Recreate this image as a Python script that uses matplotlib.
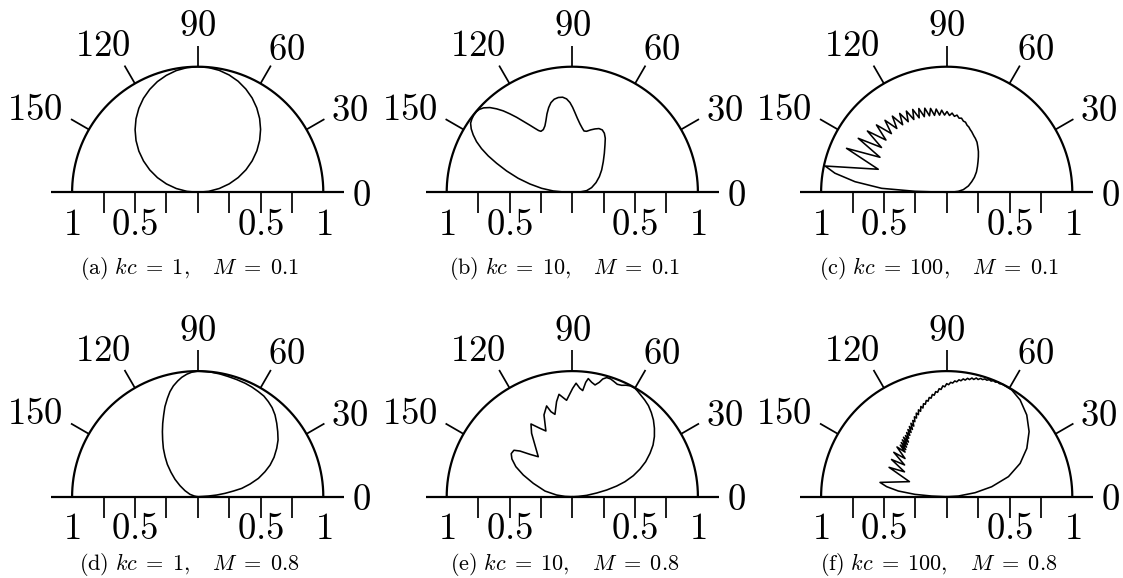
import numpy as np
import matplotlib
matplotlib.use("Agg")
import matplotlib.pyplot as plt

plt.rcParams["mathtext.fontset"] = "cm"
plt.rcParams["font.family"] = "cmr10"
plt.rcParams["axes.unicode_minus"] = False

# ---------------------------------------------------------------- data
kc_values = [1, 10, 100]
mach_values = [0.1, 0.8]
panel_tags = ["a", "b", "c", "d", "e", "f"]

angle_ticks = [30, 60, 90, 120, 150]
angle_labels = ["0", "30", "60", "90", "120", "150"]
radial_ticks = [-0.75, -0.5, -0.25, 0.0, 0.25, 0.5, 0.75]
radial_label_pos = [-1.0, -0.5, 0.5, 1.0]
radial_label_txt = ["1", "0.5", "0.5", "1"]

# directivity |D(theta)|, theta in degrees
theta_a = [0, 5, 10, 15, 20, 25, 30, 35, 40, 45, 50, 55, 60, 65, 70, 75, 80, 85, 90,
           95, 100, 105, 110, 115, 120, 125, 130, 135, 140, 145, 150, 155, 160, 165,
           170, 175, 180]
r_a = [0.0, 0.088, 0.175, 0.260, 0.343, 0.424, 0.501, 0.575, 0.644, 0.708, 0.767,
       0.820, 0.867, 0.907, 0.941, 0.967, 0.986, 0.997, 1.0, 0.996, 0.984, 0.964,
       0.938, 0.904, 0.864, 0.817, 0.764, 0.705, 0.641, 0.572, 0.498, 0.421, 0.341,
       0.258, 0.173, 0.086, 0.0]

theta_b = [0, 2.5, 6.6, 13.6, 22.2, 30.1, 37.3, 44.7, 50.6, 55.4, 58.6, 61.5, 64.3,
           67.3, 70.3, 73.6, 76.8, 79.2, 81.1, 83.6, 86.1, 88.1, 89.8, 91.5, 93.5,
           95.8, 98.4, 101.0, 103.4, 105.6, 107.9, 110.2, 112.4, 114.8, 117.2, 118.6,
           120.3, 122.3, 124.6, 126.6, 128.5, 130.3, 132.2, 134.2, 136.4, 138.3,
           140.0, 141.9, 143.9, 145.8, 147.9, 149.9, 152.1, 154.3, 156.6, 159.0,
           162.0, 165.5, 168.9, 172.6, 176.0, 177.9, 180]
r_b = [0.0, 0.061, 0.115, 0.158, 0.204, 0.249, 0.294, 0.347, 0.402, 0.458, 0.504,
       0.535, 0.551, 0.550, 0.536, 0.518, 0.499, 0.497, 0.516, 0.548, 0.591, 0.635,
       0.677, 0.715, 0.745, 0.761, 0.763, 0.755, 0.734, 0.700, 0.656, 0.608, 0.572,
       0.550, 0.546, 0.560, 0.590, 0.632, 0.687, 0.744, 0.798, 0.850, 0.897, 0.941,
       0.975, 0.992, 0.998, 0.997, 0.990, 0.979, 0.950, 0.912, 0.863, 0.802, 0.729,
       0.646, 0.550, 0.445, 0.344, 0.246, 0.152, 0.072, 0.0]

theta_c = [0, 2.9, 4.9, 9.1, 16.3, 23.1, 28.5, 34.4, 39.9, 44.4, 48.4, 52.1, 55.8,
           58.8,
           62.0, 63.9, 65.7, 67.6, 69.4, 71.3, 73.1, 75.0, 76.8, 78.7, 80.5, 82.4,
           84.2, 86.1, 87.9, 89.8, 91.6, 93.5, 95.3, 97.2, 99.0, 100.9, 102.7, 104.6,
           106.5, 108.4, 110.3, 112.3, 114.3, 116.4, 118.6, 120.8, 123.1, 125.5,
           128.0, 130.6, 133.3, 136.2, 139.3, 142.3, 145.5, 148.6, 152.3, 156.3,
           161.4, 167.8, 170.3, 173.4, 176.5, 178.2, 180]
r_c = [0.0, 0.053, 0.093, 0.134, 0.180, 0.217, 0.251, 0.287, 0.319, 0.349, 0.380,
       0.411, 0.440, 0.466,
       0.486, 0.496, 0.508, 0.522, 0.533, 0.549, 0.558, 0.578, 0.582, 0.602, 0.598,
       0.620, 0.608, 0.632, 0.612, 0.643, 0.615, 0.655, 0.617, 0.668, 0.620, 0.680,
       0.624, 0.692, 0.628, 0.703, 0.632, 0.713, 0.636, 0.722, 0.640, 0.731, 0.642,
       0.745, 0.645, 0.755, 0.642, 0.775, 0.638, 0.798, 0.630, 0.825, 0.600, 0.871,
       0.575, 0.990, 0.903, 0.735, 0.519, 0.252, 0.0]

theta_d = [0, 3.4, 3.6, 5.0, 7.0, 9.0, 10.7, 13.6, 16.8, 20.4, 23.6, 27.3, 31.5,
           35.2, 39.1, 42.9, 46.6, 50.1, 53.4, 56.7, 60.0, 63.8, 67.3, 71.6, 75.7,
           79.7, 83.6, 86.6, 90.0, 92.8, 95.1, 97.6, 99.8, 102.4, 104.8, 107.1, 110.0,
           112.6, 115.5, 118.5, 121.7, 125.4, 129.2, 133.2, 137.6, 142.6, 148.1,
           154.7, 163.1, 168.7, 180]
r_d = [0.0, 0.045, 0.085, 0.152, 0.219, 0.288, 0.357, 0.429, 0.505, 0.572, 0.629,
       0.684, 0.738, 0.783, 0.821, 0.859, 0.896, 0.924, 0.943, 0.959, 0.966, 0.974,
       0.979, 0.983, 0.987, 0.993, 0.997, 0.998, 1.0, 0.992, 0.979, 0.959, 0.935,
       0.903, 0.865, 0.820, 0.763, 0.705, 0.647, 0.589, 0.531, 0.472, 0.411, 0.353,
       0.288, 0.227, 0.166, 0.112, 0.064, 0.027, 0.0]

theta_e = [0, 3.2, 5.3, 8.6, 11.0, 13.5, 15.9, 19.0, 22.2, 25.5, 29.2, 32.6, 36.2,
           39.8, 43.4, 46.8, 50.1, 53.2, 56.1, 58.4, 60.0, 62.2, 64.3, 66.1, 68.2,
           70.1, 72.0, 73.9, 75.5, 76.7, 78.5, 80.4, 82.3, 83.3, 84.4, 86.0, 88.1,
           89.8, 93.4, 94.8, 97.4, 99.4, 101.9, 104.1, 105.8, 109.1, 111.9, 115.3,
           119.6, 122.7, 130.4, 135.0, 138.9, 141.5, 144.8, 148.0, 152.0, 156.1,
           161.1, 168.3, 173.9, 177.4, 180]
r_e = [0.0, 0.048, 0.115, 0.196, 0.279, 0.363, 0.436, 0.514, 0.582, 0.647, 0.709,
       0.763, 0.810, 0.851, 0.889, 0.919, 0.945, 0.962, 0.976, 0.989, 0.997, 0.997,
       0.985, 0.970, 0.964, 0.975, 0.986, 0.987, 0.968, 0.936, 0.908, 0.924, 0.949,
       0.917, 0.849, 0.865, 0.904, 0.863, 0.769, 0.786, 0.822, 0.767, 0.670, 0.698,
       0.751, 0.689, 0.564, 0.602, 0.666, 0.600, 0.418, 0.477, 0.553, 0.594, 0.595,
       0.567, 0.509, 0.427, 0.328, 0.222, 0.126, 0.058, 0.0]

theta_f = [0, 3.3, 8.0, 12.5, 18.0, 24.4, 31.1, 38.3, 45.6, 52.8, 58.6, 62.4,
           64, 65, 66, 67, 68, 69, 70, 71, 72, 73, 74, 75, 76, 77, 78, 79, 80, 81,
           82, 83, 84, 85, 86, 87, 88, 89, 90, 91, 92, 93, 94, 95, 96, 97, 98, 99,
           100, 101, 102, 103, 104, 105, 106, 107, 108, 109, 110, 111, 112, 113,
           114, 115, 116, 117, 118, 119, 120, 121, 122, 123, 124, 125, 126, 127,
           128, 129, 130, 131, 132, 133,
           135, 137.5, 140, 143, 146, 149.5, 153, 158, 167.9, 170.5, 173.3, 175.8,
           177.5, 180]
r_f = [0.0, 0.093, 0.228, 0.367, 0.517, 0.642, 0.745, 0.836, 0.911, 0.967, 0.995,
       0.998,
       1.000, 0.993, 1.000, 0.991, 0.997, 0.986, 0.992, 0.981, 0.986, 0.975, 0.980,
       0.966, 0.974, 0.958, 0.966, 0.950, 0.957, 0.940, 0.947, 0.930, 0.936, 0.918,
       0.924, 0.906, 0.911, 0.892, 0.900, 0.875, 0.883, 0.855, 0.862, 0.834, 0.841,
       0.814, 0.822, 0.794, 0.802, 0.775, 0.783, 0.755, 0.763, 0.731, 0.747, 0.711,
       0.727, 0.691, 0.708, 0.671, 0.686, 0.649, 0.664, 0.620, 0.650, 0.601, 0.633,
       0.585, 0.617, 0.570, 0.602, 0.555, 0.587, 0.531, 0.585, 0.520, 0.574, 0.508,
       0.563, 0.497, 0.552, 0.486,
       0.560, 0.450, 0.550, 0.420, 0.530, 0.390, 0.515, 0.320, 0.543, 0.485, 0.388,
       0.253, 0.120, 0.0]

panel_theta = [theta_a, theta_b, theta_c, theta_d, theta_e, theta_f]
panel_r = [r_a, r_b, r_c, r_d, r_e, r_f]

# ---------------------------------------------------------------- layout
W, H = 1123, 578
R = 125.6                       # pixels per unit radius
col_cx = [197.7, 572.3, 946.7]
row_cy = [192.3, 496.7]
caption_y = [-0.603, -0.536]
XL, YB, YT = 1.49, 0.75, 1.55

# label centres: (angle in deg, radius)
angle_label_pos = [(-1.3, 1.307), (27.9, 1.373), (58.0, 1.337), (90.0, 1.32),
                   (123.0, 1.382), (153.2, 1.453)]

LW_FRAME = 1.6
LW_TICK = 1.25
LW_CURVE = 1.15
FS_TICK = 26.5
FS_CAP = 16

fig = plt.figure(figsize=(W / 100, H / 100), dpi=100)
fig.patch.set_facecolor("white")

for i, mach in enumerate(mach_values):
    for j, kc in enumerate(kc_values):
        k = i * 3 + j
        cx, cy = col_cx[j], row_cy[i]
        ax = fig.add_axes([(cx - XL * R) / W, (H - cy - YB * R) / H,
                           2 * XL * R / W, (YB + YT) * R / H])
        ax.set_xlim(-XL, XL)
        ax.set_ylim(-YB, YT)
        ax.axis("off")

        # frame: unit half circle and baseline
        phi = np.linspace(0, np.pi, 400)
        ax.plot(np.cos(phi), np.sin(phi), color="black", lw=LW_FRAME,
                clip_on=False, solid_capstyle="butt")
        ax.plot([-1.165, 1.165], [0, 0], color="black", lw=LW_FRAME,
                clip_on=False, solid_capstyle="butt")

        # angular ticks
        for a in angle_ticks:
            t = np.deg2rad(a)
            ax.plot([np.cos(t), 1.165 * np.cos(t)], [np.sin(t), 1.165 * np.sin(t)],
                    color="black", lw=LW_TICK, clip_on=False, solid_capstyle="butt")
        for lab, (a, rr) in zip(angle_labels, angle_label_pos):
            t = np.deg2rad(a)
            ax.text(rr * np.cos(t), rr * np.sin(t), "$%s$" % lab, fontsize=FS_TICK,
                    ha="center", va="center", clip_on=False)

        # radial ticks
        for x in radial_ticks:
            ax.plot([x, x], [0, -0.167], color="black", lw=LW_TICK,
                    clip_on=False, solid_capstyle="butt")
        for x, lab in zip(radial_label_pos, radial_label_txt):
            ax.text(x, -0.26, "$%s$" % lab, fontsize=FS_TICK, ha="center",
                    va="center", clip_on=False)

        # directivity curve
        th = np.deg2rad(np.asarray(panel_theta[k], dtype=float))
        rr = np.asarray(panel_r[k], dtype=float)
        ax.plot(rr * np.cos(th), rr * np.sin(th), color="black", lw=LW_CURVE,
                clip_on=False, solid_joinstyle="round")

        cap = (r"$\mathrm{(%s)}\ kc\;=\;%g,\quad M\;=\;%g$"
               % (panel_tags[k], kc, mach))
        ax.text(-0.064, caption_y[i], cap, fontsize=FS_CAP, ha="center",
                va="center", clip_on=False)

fig.savefig("out.png", dpi=100, facecolor="white")
